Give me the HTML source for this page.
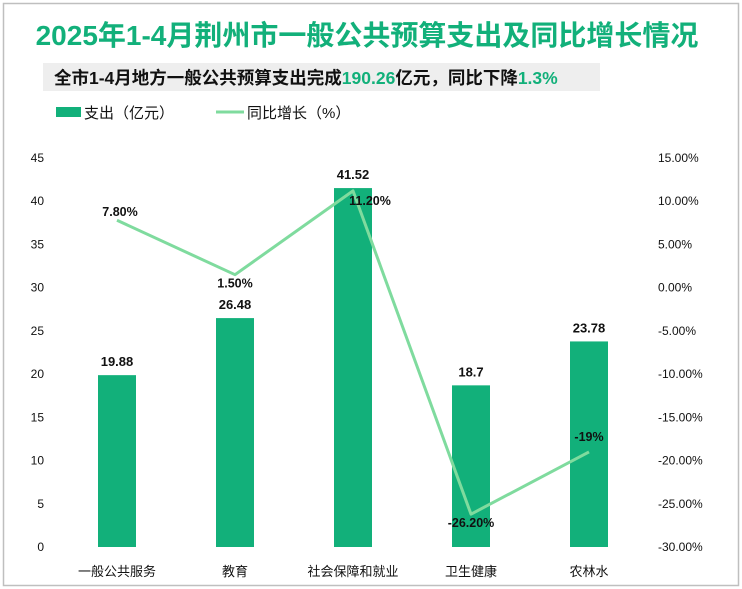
<!DOCTYPE html>
<html><head><meta charset="utf-8"><style>
body{margin:0;background:#fff;}
#c{position:relative;width:742px;height:589px;overflow:hidden;font-family:"Liberation Sans","Noto Sans CJK SC",sans-serif;}
</style></head><body>
<div id="c">
<svg id="s" width="742" height="589" xmlns="http://www.w3.org/2000/svg" style="font-family:'Liberation Sans','Noto Sans CJK SC',sans-serif">
<rect x="3.5" y="3.5" width="735" height="582" fill="#fff" stroke="#bfbfbf" stroke-width="1.5"/>
<text x="367" y="45" text-anchor="middle" font-size="28" font-weight="bold" fill="#12b07a">2025年1-4月荆州市一般公共预算支出及同比增长情况</text>
<rect x="43" y="63" width="557" height="28" fill="#eeeeee"/>
<text x="54" y="84" font-size="17.5" font-weight="bold" fill="#111">全市1-4月地方一般公共预算支出完成<tspan fill="#12b07a">190.26</tspan>亿元，同比下降<tspan fill="#12b07a">1.3%</tspan></text>
<rect x="56" y="107" width="25" height="10" fill="#12b07a"/>
<text x="84" y="118" font-size="15" fill="#111">支出（亿元）</text>
<line x1="216" y1="112" x2="244" y2="112" stroke="#7fdb9e" stroke-width="3"/>
<text x="247" y="118" font-size="15" fill="#111">同比增长（%）</text>
<g id="g"></g>
</svg>
</div>
<script>
const categories=["一般公共服务","教育","社会保障和就业","卫生健康","农林水"];
const spending=[19.88,26.48,41.52,18.7,23.78];
const spendingLabels=["19.88","26.48","41.52","18.7","23.78"];
const growth=[7.8,1.5,11.2,-26.2,-19];
const growthLabels=["7.80%","1.50%","11.20%","-26.20%","-19%"];
const leftTicks=[0,5,10,15,20,25,30,35,40,45];
const rightTicks=[15,10,5,0,-5,-10,-15,-20,-25,-30];
const rightTickLabels=["15.00%","10.00%","5.00%","0.00%","-5.00%","-10.00%","-15.00%","-20.00%","-25.00%","-30.00%"];

const NS="http://www.w3.org/2000/svg";
const g=document.getElementById('g');
const X0=58,BW=118,Y0=547,Y1=158;
const xc=i=>X0+BW*(i+0.5);
const yL=v=>Y0-(v/45)*(Y0-Y1);
const yR=v=>Y0-((v+30)/45)*(Y0-Y1);
function mk(t,a){const e=document.createElementNS(NS,t);for(const k in a)e.setAttribute(k,a[k]);g.appendChild(e);return e;}
function tx(x,y,s,anchor,size,weight){const e=mk('text',{x:x,y:y,'text-anchor':anchor,'font-size':size,'font-weight':weight||'normal',fill:'#111'});e.textContent=s;return e;}

leftTicks.forEach(v=>{const e=tx(44,yL(v)+4,String(v),'end',12);

});
rightTicks.forEach((v,i)=>{const e=tx(658,yR(v)+4,rightTickLabels[i],'start',12);

});

categories.forEach((c,i)=>{
 const b=mk('rect',{x:xc(i)-19,y:yL(spending[i]),width:38,height:Y0-yL(spending[i]),fill:'#12b07a'});
 
 
 const l=tx(xc(i),yL(spending[i])-9,spendingLabels[i],'middle',13,'bold');
 
 
 const cl=tx(xc(i),576,c,'middle',13);
 
 
});
const pts=growth.map((v,i)=>xc(i)+','+yR(v)).join(' ');
const pl=mk('polyline',{points:pts,fill:'none',stroke:'#7fdb9e','stroke-width':3,'stroke-linejoin':'round'});


const offs=[[3,-4],[0,13],[17,14],[0,13],[0,-11]];
growth.forEach((v,i)=>{
 const l=tx(xc(i)+offs[i][0],yR(v)+offs[i][1],growthLabels[i],'middle',12.5,'bold');
 
 
});
</script>
</body></html>
